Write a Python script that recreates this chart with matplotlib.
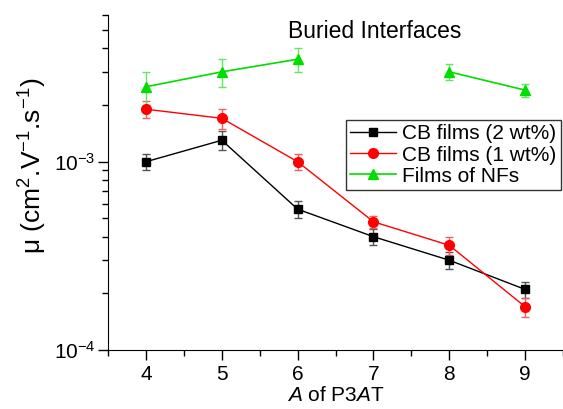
import numpy as np
import matplotlib.pyplot as plt
from matplotlib.ticker import LogLocator, NullFormatter, MultipleLocator

plt.rcParams['font.family'] = ['Liberation Sans', 'DejaVu Sans']
plt.rcParams['mathtext.fontset'] = 'custom'
plt.rcParams['mathtext.rm'] = 'Liberation Sans'
plt.rcParams['mathtext.it'] = 'Liberation Sans:italic'

# Data
a_values = [4, 5, 6, 7, 8, 9]

cb2_mu = [1.0e-3, 1.3e-3, 5.6e-4, 4.0e-4, 3.0e-4, 2.1e-4]
cb2_err = [1.0e-4, 1.5e-4, 5.5e-5, 4.0e-5, 3.0e-5, 2.0e-5]

cb1_mu = [1.9e-3, 1.7e-3, 1.0e-3, 4.8e-4, 3.6e-4, 1.7e-4]
cb1_err = [2.0e-4, 2.0e-4, 1.0e-4, 3.5e-5, 4.0e-5, 2.0e-5]

nf_mu = [2.5e-3, 3.0e-3, 3.5e-3, np.nan, 3.0e-3, 2.4e-3]
nf_err = [5.0e-4, 5.0e-4, 5.0e-4, np.nan, 3.0e-4, 2.0e-4]

fig = plt.figure(figsize=(5.63, 4.09), dpi=100)
ax = fig.add_axes([0.192, 0.144, 0.808, 0.819])

c1 = ax.errorbar(a_values, cb2_mu, yerr=cb2_err, color='black', marker='s', ms=6,
                 lw=1, capsize=3, elinewidth=1, ecolor='#555555',
                 label='CB films (2 wt%)')
c2 = ax.errorbar(a_values, cb1_mu, yerr=cb1_err, color='#ff0000', marker='o', ms=7,
                 lw=1, capsize=3, elinewidth=1, ecolor='#f06060',
                 label='CB films (1 wt%)')
c3 = ax.errorbar(a_values, nf_mu, yerr=nf_err, color='#00dd00', marker='^', ms=7,
                 lw=1.2, capsize=3, elinewidth=1, ecolor='#60e860',
                 label='Films of NFs')

ax.set_yscale('log')
ax.set_ylim(1e-4, 6e-3)
ax.set_xlim(3.5, 9.5)

ax.yaxis.set_major_locator(LogLocator(base=10, numticks=10))
ax.yaxis.set_minor_locator(LogLocator(base=10, subs=np.arange(2, 10), numticks=20))
ax.yaxis.set_minor_formatter(NullFormatter())
ax.xaxis.set_major_locator(MultipleLocator(1))
ax.xaxis.set_minor_locator(MultipleLocator(0.5))

ax.spines['top'].set_visible(False)
ax.spines['right'].set_visible(False)
ax.tick_params(which='major', length=7, width=1, labelsize=15, direction='out')
ax.tick_params(axis='y', which='major', pad=2)
ax.tick_params(which='minor', length=4, width=1, direction='out')

ax.set_xlabel('$\\mathit{A}$ of P3$\\mathit{A}$T', fontsize=15, labelpad=2)
ax.set_ylabel('μ (cm$^2$.V$^{-1}$.s$^{-1}$)', fontsize=19)
ax.yaxis.set_label_coords(-0.13, 0.55)

ax.text(0.585, 0.985, 'Buried Interfaces', transform=ax.transAxes,
        ha='center', va='top', fontsize=16.5)

leg = ax.legend(handles=[c1[0], c2[0], c3[0]],
                labels=['CB films (2 wt%)', 'CB films (1 wt%)', 'Films of NFs'],
                loc='upper right', bbox_to_anchor=(0.995, 0.686),
                fontsize=15, frameon=True, fancybox=False, handlelength=2.2,
                handletextpad=0.3, borderpad=0.2, labelspacing=0.1,
                borderaxespad=0)
leg.get_frame().set_edgecolor('black')
leg.get_frame().set_linewidth(1)

plt.savefig('out.png', dpi=100)
